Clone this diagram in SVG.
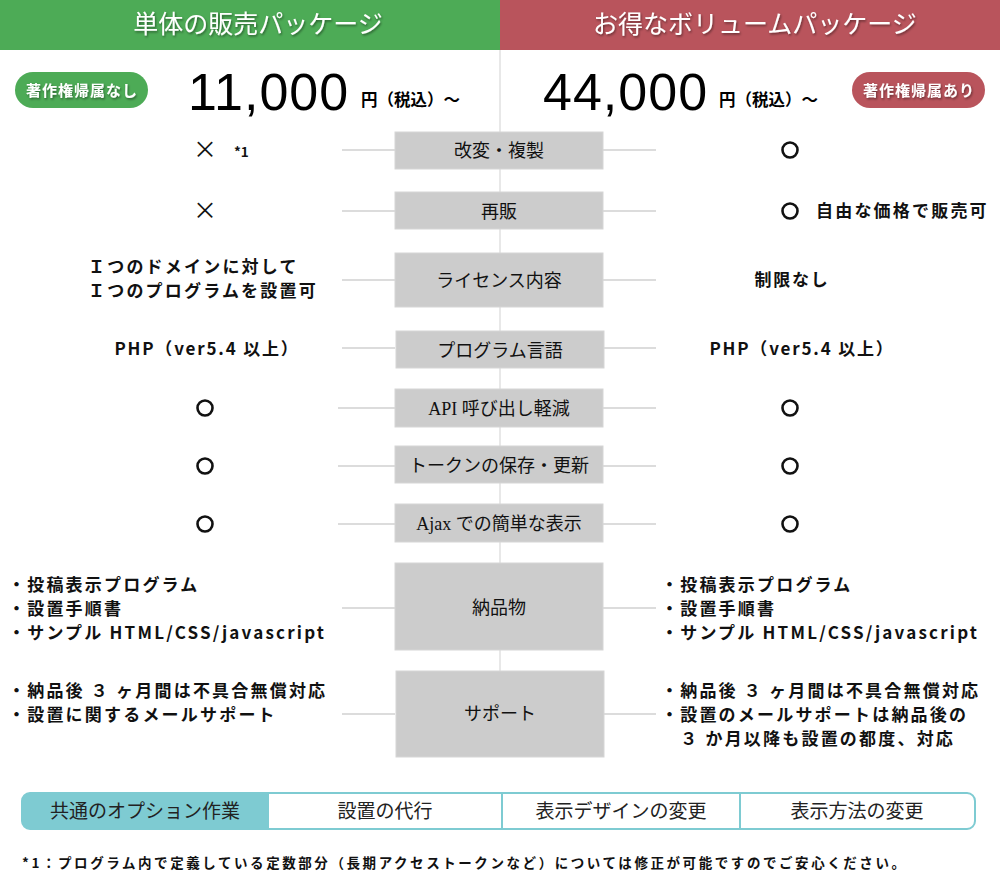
<svg xmlns="http://www.w3.org/2000/svg" width="1000" height="880" viewBox="0 0 1000 880">
<defs>
<filter id="sh" x="-10%" y="-30%" width="120%" height="160%">
<feDropShadow dx="1" dy="1.5" stdDeviation="1.2" flood-color="#000" flood-opacity="0.45"/>
</filter>
<style>
.hd{font-family:"Liberation Serif","Noto Sans CJK JP",serif;font-size:25px;fill:#fff;text-anchor:middle}
.badge{font-family:"Noto Sans CJK JP",sans-serif;font-size:15px;font-weight:bold;fill:#fff;text-anchor:middle}
.price{font-family:"Liberation Sans",Arial,sans-serif;font-size:52px;fill:#000}
.yen{font-family:"Noto Sans CJK JP",sans-serif;font-size:16.5px;font-weight:bold;fill:#000}
.box{fill:#cccccc;stroke:#d6d6d6;stroke-width:1}
.lbl{font-family:"Liberation Serif","Noto Sans CJK JP",serif;font-size:18px;fill:#111;text-anchor:middle}
.v{font-family:"Noto Sans CJK JP",sans-serif;font-size:17px;font-weight:bold;fill:#111;letter-spacing:2.2px}
.vc{font-family:"Noto Sans CJK JP",sans-serif;font-size:17px;font-weight:bold;fill:#111;text-anchor:middle;letter-spacing:1.8px}
.mk{font-family:"Noto Sans CJK JP",sans-serif;font-size:24px;fill:#111;text-anchor:middle}
.ring{fill:none;stroke:#111;stroke-width:2.6}
.ln{stroke:#d0d0d0;stroke-width:1.5;fill:none}
.opt{font-family:"Liberation Serif","Noto Sans CJK JP",serif;font-size:19px;fill:#222;text-anchor:middle}
.fn{font-family:"Noto Sans CJK JP",sans-serif;font-size:13.5px;font-weight:bold;fill:#111}
</style>
</defs>
<rect width="1000" height="880" fill="#fff"/>

<g id="connectors">
<line class="ln" x1="500" y1="50" x2="500" y2="671" stroke-width="2.5" style="stroke:#e0e0e0"/>
<line class="ln" x1="342" y1="150" x2="395" y2="150"/><line class="ln" x1="603" y1="150" x2="656" y2="150"/>
<line class="ln" x1="342" y1="211" x2="395" y2="211"/><line class="ln" x1="603" y1="211" x2="656" y2="211"/>
<line class="ln" x1="342" y1="280" x2="395" y2="280"/><line class="ln" x1="603" y1="280" x2="656" y2="280"/>
<line class="ln" x1="342" y1="348" x2="395" y2="348"/><line class="ln" x1="603" y1="348" x2="656" y2="348"/>
<line class="ln" x1="338" y1="408" x2="395" y2="408"/><line class="ln" x1="603" y1="408" x2="656" y2="408"/>
<line class="ln" x1="338" y1="466" x2="395" y2="466"/><line class="ln" x1="603" y1="466" x2="656" y2="466"/>
<line class="ln" x1="338" y1="524" x2="395" y2="524"/><line class="ln" x1="603" y1="524" x2="656" y2="524"/>
<line class="ln" x1="342" y1="608" x2="395" y2="608"/><line class="ln" x1="603" y1="608" x2="656" y2="608"/>
<line class="ln" x1="342" y1="714" x2="395" y2="714"/><line class="ln" x1="603" y1="714" x2="656" y2="714"/>
</g>

<g id="header-single">
<rect x="0" y="0" width="500" height="50" fill="#4dab56"/>
<text class="hd" x="258" y="33" filter="url(#sh)">単体の販売パッケージ</text>
</g>
<g id="header-volume">
<rect x="500" y="0" width="500" height="50" fill="#b9545c"/>
<text class="hd" x="755" y="33" filter="url(#sh)">お得なボリュームパッケージ</text>
</g>

<g id="badge-single">
<rect x="15" y="72" width="133" height="36" rx="18" fill="#4dab56"/>
<text class="badge" x="82" y="96" filter="url(#sh)" letter-spacing="1">著作権帰属なし</text>
</g>
<g id="badge-volume">
<rect x="852" y="72" width="133" height="36" rx="18" fill="#b9545c"/>
<text class="badge" x="919" y="96" filter="url(#sh)" letter-spacing="1">著作権帰属あり</text>
</g>

<g id="price-single">
<text class="price" x="188" y="110" letter-spacing="1">11,000</text>
<text class="yen" x="361" y="106">円（税込）～</text>
</g>
<g id="price-volume">
<text class="price" x="543" y="110" letter-spacing="1">44,000</text>
<text class="yen" x="719" y="106">円（税込）～</text>
</g>

<g id="row-modify">
<rect class="box" x="395" y="132" width="208" height="37"/>
<text class="lbl" x="499" y="157">改変・複製</text>
<text class="mk" x="205" y="158">×</text>
<text class="fn" x="234" y="157" font-size="12.5">*1</text>
<circle class="ring" cx="790" cy="150" r="7.5"/>
</g>

<g id="row-resale">
<rect class="box" x="395" y="192" width="208" height="37"/>
<text class="lbl" x="499" y="218">再販</text>
<text class="mk" x="205" y="219">×</text>
<circle class="ring" cx="790" cy="211" r="7.5"/>
<text class="v" x="816" y="217" letter-spacing="2">自由な価格で販売可</text>
</g>

<g id="row-license">
<rect class="box" x="395" y="253" width="208" height="54"/>
<text class="lbl" x="499" y="287">ライセンス内容</text>
<text class="v" x="88" y="273" letter-spacing="2.6">Ｉつのドメインに対して</text>
<text class="v" x="88" y="297" letter-spacing="2.6">Ｉつのプログラムを設置可</text>
<text class="vc" x="792" y="286" letter-spacing="3">制限なし</text>
</g>

<g id="row-language">
<rect class="box" x="396" y="331" width="208" height="37"/>
<text class="lbl" x="500" y="357">プログラム言語</text>
<text class="vc" x="207" y="355">PHP（ver5.4 以上）</text>
<text class="vc" x="802" y="355">PHP（ver5.4 以上）</text>
</g>

<g id="row-api">
<rect class="box" x="395" y="389" width="208" height="38"/>
<text class="lbl" x="499" y="415">API 呼び出し軽減</text>
<circle class="ring" cx="205" cy="408" r="7.5"/>
<circle class="ring" cx="790" cy="408" r="7.5"/>
</g>

<g id="row-token">
<rect class="box" x="395" y="446" width="208" height="37"/>
<text class="lbl" x="499" y="472">トークンの保存・更新</text>
<circle class="ring" cx="205" cy="466" r="7.5"/>
<circle class="ring" cx="790" cy="466" r="7.5"/>
</g>

<g id="row-ajax">
<rect class="box" x="395" y="504" width="208" height="38"/>
<text class="lbl" x="499" y="530">Ajax での簡単な表示</text>
<circle class="ring" cx="205" cy="524" r="7.5"/>
<circle class="ring" cx="790" cy="524" r="7.5"/>
</g>

<g id="row-deliverables">
<rect class="box" x="395" y="563" width="208" height="87"/>
<text class="lbl" x="499" y="614">納品物</text>
<text class="v" x="8" y="591">・投稿表示プログラム</text>
<text class="v" x="8" y="615">・設置手順書</text>
<text class="v" x="8" y="639" letter-spacing="1.6">・サンプル HTML/CSS/javascript</text>
<text class="v" x="661" y="591">・投稿表示プログラム</text>
<text class="v" x="661" y="615">・設置手順書</text>
<text class="v" x="661" y="639" letter-spacing="1.6">・サンプル HTML/CSS/javascript</text>
</g>

<g id="row-support">
<rect class="box" x="396" y="671" width="208" height="86"/>
<text class="lbl" x="500" y="720">サポート</text>
<text class="v" x="8" y="697" letter-spacing="1.6">・納品後 ３ ヶ月間は不具合無償対応</text>
<text class="v" x="8" y="721">・設置に関するメールサポート</text>
<text class="v" x="661" y="697" letter-spacing="1.6">・納品後 ３ ヶ月間は不具合無償対応</text>
<text class="v" x="661" y="721" letter-spacing="2">・設置のメールサポートは納品後の</text>
<text class="v" x="661" y="745" letter-spacing="2">　３ か月以降も設置の都度、対応</text>
</g>

<g id="options">
<path d="M30,793 H268 V829 H30 A8,8 0 0 1 22,821 V801 A8,8 0 0 1 30,793 Z" fill="#7ecbd2"/>
<rect x="22" y="793" width="953" height="36" rx="8" fill="none" stroke="#7ecbd2" stroke-width="2"/>
<line x1="268" y1="793" x2="268" y2="829" stroke="#7ecbd2" stroke-width="2"/>
<line x1="502" y1="793" x2="502" y2="829" stroke="#7ecbd2" stroke-width="2"/>
<line x1="740" y1="793" x2="740" y2="829" stroke="#7ecbd2" stroke-width="2"/>
<text class="opt" x="145" y="818">共通のオプション作業</text>
<text class="opt" x="385" y="818">設置の代行</text>
<text class="opt" x="621" y="818">表示デザインの変更</text>
<text class="opt" x="857" y="818">表示方法の変更</text>
</g>

<g id="footnote">
<text class="fn" x="22" y="868" textLength="883" lengthAdjust="spacing">*1：プログラム内で定義している定数部分（長期アクセストークンなど）については修正が可能ですのでご安心ください。</text>
</g>
</svg>
